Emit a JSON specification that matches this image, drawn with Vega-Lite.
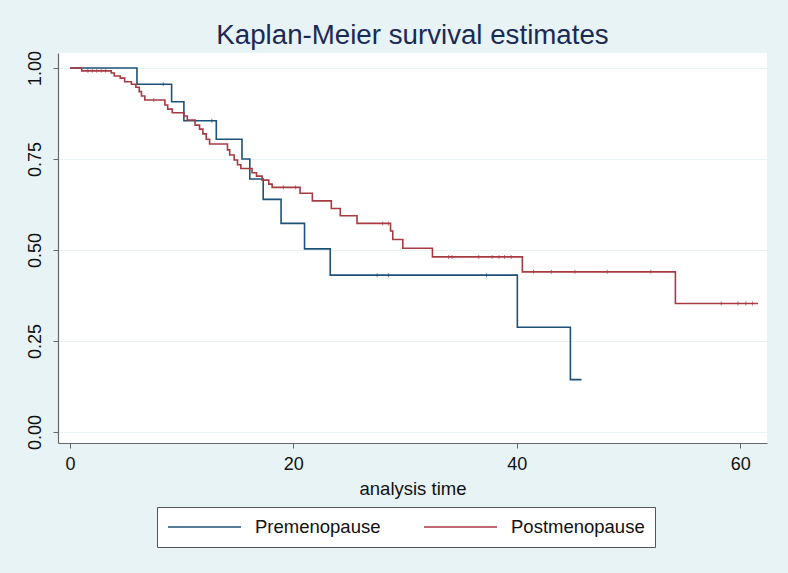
{
  "$schema": "https://vega.github.io/schema/vega-lite/v6.json",
  "width": 709,
  "height": 390,
  "autosize": {"type": "none"},
  "padding": {"left": 58, "top": 53, "right": 21, "bottom": 130},
  "background": "#e8f3f5",
  "title": {
    "text": "Kaplan-Meier survival estimates",
    "fontSize": 27.7,
    "font": "Liberation Sans",
    "fontWeight": "normal",
    "color": "#1a2a55",
    "anchor": "middle",
    "offset": 1
  },
  "datasets": {
    "km": [
      {"group": "Premenopause", "time": 0, "surv": 1.0},
      {"group": "Premenopause", "time": 6.0, "surv": 0.955},
      {"group": "Premenopause", "time": 9.1, "surv": 0.907},
      {"group": "Premenopause", "time": 10.2, "surv": 0.855},
      {"group": "Premenopause", "time": 13.1, "surv": 0.804},
      {"group": "Premenopause", "time": 15.4, "surv": 0.75},
      {"group": "Premenopause", "time": 16.1, "surv": 0.695},
      {"group": "Premenopause", "time": 17.3, "surv": 0.639},
      {"group": "Premenopause", "time": 18.9, "surv": 0.573},
      {"group": "Premenopause", "time": 21.0, "surv": 0.503},
      {"group": "Premenopause", "time": 23.3, "surv": 0.431},
      {"group": "Premenopause", "time": 40.05, "surv": 0.288},
      {"group": "Premenopause", "time": 44.8, "surv": 0.144},
      {"group": "Premenopause", "time": 45.8, "surv": 0.144},
      {"group": "Postmenopause", "time": 0, "surv": 1.0},
      {"group": "Postmenopause", "time": 1.05, "surv": 0.992},
      {"group": "Postmenopause", "time": 3.7, "surv": 0.986},
      {"group": "Postmenopause", "time": 3.97, "surv": 0.978},
      {"group": "Postmenopause", "time": 4.5, "surv": 0.972},
      {"group": "Postmenopause", "time": 4.9, "surv": 0.962},
      {"group": "Postmenopause", "time": 5.5, "surv": 0.955},
      {"group": "Postmenopause", "time": 5.9, "surv": 0.947},
      {"group": "Postmenopause", "time": 6.2, "surv": 0.935},
      {"group": "Postmenopause", "time": 6.4, "surv": 0.923},
      {"group": "Postmenopause", "time": 6.7, "surv": 0.912},
      {"group": "Postmenopause", "time": 8.5, "surv": 0.898},
      {"group": "Postmenopause", "time": 8.75, "surv": 0.887},
      {"group": "Postmenopause", "time": 9.16, "surv": 0.877},
      {"group": "Postmenopause", "time": 10.2, "surv": 0.868},
      {"group": "Postmenopause", "time": 10.5, "surv": 0.857},
      {"group": "Postmenopause", "time": 11.2, "surv": 0.843},
      {"group": "Postmenopause", "time": 11.6, "surv": 0.832},
      {"group": "Postmenopause", "time": 11.9, "surv": 0.819},
      {"group": "Postmenopause", "time": 12.2, "surv": 0.804},
      {"group": "Postmenopause", "time": 12.5, "surv": 0.791},
      {"group": "Postmenopause", "time": 14.1, "surv": 0.775},
      {"group": "Postmenopause", "time": 14.3, "surv": 0.761},
      {"group": "Postmenopause", "time": 14.7, "surv": 0.747},
      {"group": "Postmenopause", "time": 15.0, "surv": 0.734},
      {"group": "Postmenopause", "time": 15.3, "surv": 0.724},
      {"group": "Postmenopause", "time": 16.3, "surv": 0.712},
      {"group": "Postmenopause", "time": 16.7, "surv": 0.703},
      {"group": "Postmenopause", "time": 17.2, "surv": 0.692},
      {"group": "Postmenopause", "time": 17.8, "surv": 0.681},
      {"group": "Postmenopause", "time": 18.1, "surv": 0.672},
      {"group": "Postmenopause", "time": 20.6, "surv": 0.656},
      {"group": "Postmenopause", "time": 21.7, "surv": 0.635},
      {"group": "Postmenopause", "time": 23.4, "surv": 0.614},
      {"group": "Postmenopause", "time": 24.2, "surv": 0.594},
      {"group": "Postmenopause", "time": 25.7, "surv": 0.573},
      {"group": "Postmenopause", "time": 28.7, "surv": 0.552},
      {"group": "Postmenopause", "time": 28.9, "surv": 0.529},
      {"group": "Postmenopause", "time": 29.8, "surv": 0.505},
      {"group": "Postmenopause", "time": 32.45, "surv": 0.481},
      {"group": "Postmenopause", "time": 40.5, "surv": 0.44},
      {"group": "Postmenopause", "time": 54.2, "surv": 0.353},
      {"group": "Postmenopause", "time": 61.6, "surv": 0.353}
    ],
    "censor": [
      {"group": "Premenopause", "time": 8.35, "surv": 0.955},
      {"group": "Premenopause", "time": 12.7, "surv": 0.855},
      {"group": "Premenopause", "time": 27.5, "surv": 0.431},
      {"group": "Premenopause", "time": 28.5, "surv": 0.431},
      {"group": "Premenopause", "time": 37.3, "surv": 0.431},
      {"group": "Postmenopause", "time": 1.6, "surv": 0.992},
      {"group": "Postmenopause", "time": 2.0, "surv": 0.992},
      {"group": "Postmenopause", "time": 2.4, "surv": 0.992},
      {"group": "Postmenopause", "time": 2.8, "surv": 0.992},
      {"group": "Postmenopause", "time": 3.2, "surv": 0.992},
      {"group": "Postmenopause", "time": 7.5, "surv": 0.912},
      {"group": "Postmenopause", "time": 19.1, "surv": 0.672},
      {"group": "Postmenopause", "time": 20.2, "surv": 0.672},
      {"group": "Postmenopause", "time": 28.0, "surv": 0.573},
      {"group": "Postmenopause", "time": 28.5, "surv": 0.573},
      {"group": "Postmenopause", "time": 33.9, "surv": 0.481},
      {"group": "Postmenopause", "time": 34.2, "surv": 0.481},
      {"group": "Postmenopause", "time": 36.6, "surv": 0.481},
      {"group": "Postmenopause", "time": 37.8, "surv": 0.481},
      {"group": "Postmenopause", "time": 38.4, "surv": 0.481},
      {"group": "Postmenopause", "time": 38.9, "surv": 0.481},
      {"group": "Postmenopause", "time": 39.5, "surv": 0.481},
      {"group": "Postmenopause", "time": 41.5, "surv": 0.44},
      {"group": "Postmenopause", "time": 43.1, "surv": 0.44},
      {"group": "Postmenopause", "time": 45.2, "surv": 0.44},
      {"group": "Postmenopause", "time": 48.1, "surv": 0.44},
      {"group": "Postmenopause", "time": 52.0, "surv": 0.44},
      {"group": "Postmenopause", "time": 58.3, "surv": 0.353},
      {"group": "Postmenopause", "time": 59.8, "surv": 0.353},
      {"group": "Postmenopause", "time": 60.5, "surv": 0.353},
      {"group": "Postmenopause", "time": 61.1, "surv": 0.353}
    ]
  },
  "encoding": {
    "x": {
      "field": "time",
      "type": "quantitative",
      "scale": {"domain": [-1.07, 62.4], "nice": false, "zero": false},
      "axis": {
        "title": "analysis time",
        "values": [0, 20, 40, 60],
        "grid": false,
        "titlePadding": 6
      }
    },
    "y": {
      "field": "surv",
      "type": "quantitative",
      "scale": {"domain": [-0.03, 1.041], "nice": false, "zero": false},
      "axis": {
        "title": null,
        "values": [0, 0.25, 0.5, 0.75, 1.0],
        "format": ".2f",
        "grid": true,
        "labelAngle": -90,
        "labelAlign": "center",
        "labelBaseline": "bottom",
        "labelPadding": 9
      }
    },
    "color": {
      "field": "group",
      "type": "nominal",
      "scale": {
        "domain": ["Premenopause", "Postmenopause"],
        "range": ["#1d5177", "#a83a42"]
      }
    }
  },
  "layer": [
    {
      "data": {"name": "km"},
      "mark": {"type": "line", "interpolate": "step-after", "strokeWidth": 1.6},
      "encoding": {
        "color": {
          "field": "group",
          "type": "nominal",
          "legend": {
            "title": null,
            "orient": "none",
            "legendX": 99,
            "legendY": 454,
            "direction": "horizontal",
            "columns": 2,
            "columnPadding": 42,
            "labelOffset": 13,
            "symbolType": "stroke",
            "symbolSize": 5329,
            "symbolStrokeWidth": 1.6,
            "clipHeight": 20,
            "labelFontSize": 18.5,
            "labelFont": "Liberation Sans",
            "labelColor": "#111111",
            "padding": 10,
            "strokeColor": "#555555",
            "fillColor": "#ffffff"
          }
        }
      }
    },
    {
      "data": {"name": "censor"},
      "mark": {"type": "tick", "orient": "vertical", "size": 4, "thickness": 1},
      "encoding": {
        "color": {"field": "group", "type": "nominal", "legend": null}
      }
    }
  ],
  "config": {
    "font": "Liberation Sans",
    "view": {"stroke": null, "fill": "#ffffff"},
    "axis": {
      "labelFont": "Liberation Sans",
      "labelFontSize": 18,
      "labelColor": "#111111",
      "titleFont": "Liberation Sans",
      "titleFontSize": 18.5,
      "titleFontWeight": "normal",
      "titleColor": "#111111",
      "domainColor": "#666666",
      "domainWidth": 1.2,
      "tickColor": "#666666",
      "tickSize": 5,
      "tickWidth": 1,
      "gridColor": "#e9f2f4",
      "gridWidth": 1,
      "labelPadding": 7
    }
  }
}
